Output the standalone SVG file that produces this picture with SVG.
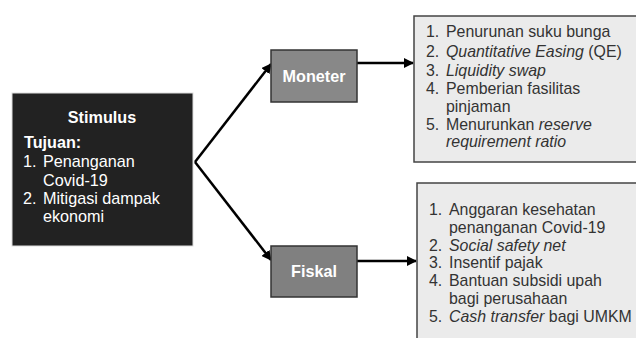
<svg xmlns="http://www.w3.org/2000/svg" width="636" height="338" viewBox="0 0 636 338">
<defs>
<style>
text{font-family:"Liberation Sans",Arial,sans-serif;}
.w{fill:#fff;font-size:16.2px;}
.b{font-weight:bold;}
.t{fill:#333;font-size:15.9px;}
.i{font-style:italic;}
.ln{stroke:#000;stroke-width:2.5;fill:none;stroke-linejoin:miter;}
</style>
<marker id="ah" viewBox="0 0 10 10" refX="9" refY="5" markerWidth="4" markerHeight="4" orient="auto" markerUnits="strokeWidth">
<path d="M0,0 L10,5 L0,10 z" fill="#000"/>
</marker>
</defs>
<rect width="636" height="338" fill="#fff"/>
<g id="connectors">
<path class="ln" d="M195,162 L271,64" marker-end="url(#ah)"/>
<path class="ln" d="M195,162 L271,260" marker-end="url(#ah)"/>
<path class="ln" d="M357,63 L413,63" marker-end="url(#ah)"/>
<path class="ln" d="M357,261 L416,261" marker-end="url(#ah)"/>
</g>
<g id="stimulus">
<rect x="12" y="93" width="181" height="153" fill="#222" stroke="#ddd" stroke-width="1"/>
<text class="w b" x="102" y="123" text-anchor="middle">Stimulus</text>
<text class="w b" x="24" y="148">Tujuan:</text>
<text class="w" x="23" y="167">1.</text><text class="w" x="43" y="167">Penanganan</text>
<text class="w" x="43" y="186">Covid-19</text>
<text class="w" x="23" y="204">2.</text><text class="w" x="43" y="204">Mitigasi dampak</text>
<text class="w" x="43" y="222">ekonomi</text>
</g>
<g id="moneter">
<rect x="271" y="50" width="86" height="52" fill="#888" stroke="#333" stroke-width="1.5"/>
<text class="w b" x="314" y="82" text-anchor="middle">Moneter</text>
</g>
<g id="fiskal">
<rect x="271" y="246" width="86" height="51" fill="#808080" stroke="#333" stroke-width="1.5"/>
<text class="w b" x="314" y="277" text-anchor="middle">Fiskal</text>
</g>
<g id="moneter-list">
<rect x="414" y="16" width="230" height="146" fill="#ebebeb" stroke="#444" stroke-width="1.5"/>
<text class="t" x="426" y="37">1.</text><text class="t" x="446" y="37">Penurunan suku bunga</text>
<text class="t" x="426" y="56.5">2.</text><text class="t" x="446" y="56.5"><tspan class="i">Quantitative Easing</tspan> (QE)</text>
<text class="t" x="426" y="75.5">3.</text><text class="t i" x="446" y="75.5">Liquidity swap</text>
<text class="t" x="426" y="94">4.</text><text class="t" x="446" y="94">Pemberian fasilitas</text>
<text class="t" x="446" y="112">pinjaman</text>
<text class="t" x="426" y="129.5">5.</text><text class="t" x="446" y="129.5">Menurunkan <tspan class="i">reserve</tspan></text>
<text class="t i" x="446" y="146.5">requirement ratio</text>
</g>
<g id="fiskal-list">
<rect x="417" y="183" width="230" height="170" fill="#ebebeb" stroke="#444" stroke-width="1.5"/>
<text class="t" x="429" y="215">1.</text><text class="t" x="449" y="215">Anggaran kesehatan</text>
<text class="t" x="449" y="233">penanganan Covid-19</text>
<text class="t" x="429" y="250.5">2.</text><text class="t i" x="449" y="250.5">Social safety net</text>
<text class="t" x="429" y="268">3.</text><text class="t" x="449" y="268">Insentif pajak</text>
<text class="t" x="429" y="286">4.</text><text class="t" x="449" y="286">Bantuan subsidi upah</text>
<text class="t" x="449" y="304">bagi perusahaan</text>
<text class="t" x="429" y="322">5.</text><text class="t" x="449" y="322"><tspan class="i">Cash transfer</tspan> bagi UMKM</text>
</g>
</svg>
